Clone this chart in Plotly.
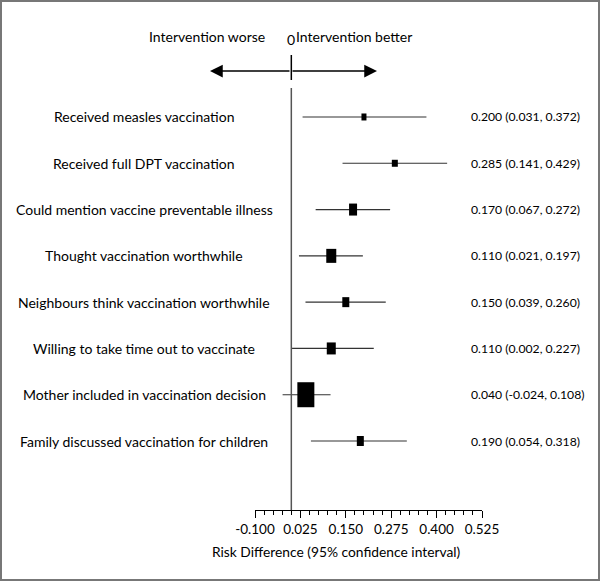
import plotly.graph_objects as go

# ---- data ----
outcomes = [
    "Received measles vaccination",
    "Received full DPT vaccination",
    "Could mention vaccine preventable illness",
    "Thought vaccination worthwhile",
    "Neighbours think vaccination worthwhile",
    "Willing to take time out to vaccinate",
    "Mother included in vaccination decision",
    "Family discussed vaccination for children",
]
estimate = [0.200, 0.285, 0.170, 0.110, 0.150, 0.110, 0.040, 0.190]
ci_low = [0.031, 0.141, 0.067, 0.021, 0.039, 0.002, -0.024, 0.054]
ci_high = [0.372, 0.429, 0.272, 0.197, 0.260, 0.227, 0.108, 0.318]
tick_vals = [-0.100, 0.025, 0.150, 0.275, 0.400, 0.525]
tick_text = ["-0.100", "0.025", "0.150", "0.275", "0.400", "0.525"]

# box pixel sizes (style)
box_w = [5, 6, 8, 10, 7, 9, 17, 7]
box_h = [7, 7, 12, 14, 10, 12, 25, 10]

W, H = 600, 581
ML, MR, MT, MB = 255, 118, 88, 71
PW, PH = W - ML - MR, H - MT - MB
FONT = "Lato"

def px(p):
    return (p - ML) / PW

def py(p):
    return (H - MB - p) / PH

rows = list(range(1, len(outcomes) + 1))

fig = go.Figure()
fig.add_trace(go.Scatter(
    x=estimate, y=rows, mode="markers",
    marker=dict(size=1, color="rgba(0,0,0,0)"),
    error_x=dict(type="data", symmetric=False,
                 array=[h - e for h, e in zip(ci_high, estimate)],
                 arrayminus=[e - l for e, l in zip(estimate, ci_low)],
                 width=0, thickness=1.2, color="#333333"),
    showlegend=False, hoverinfo="skip",
))

shapes = []
# reference line at 0
shapes.append(dict(type="line", xref="x", yref="paper", x0=0, x1=0, y0=0, y1=1,
                   line=dict(color="#555555", width=1.5)))
# boxes
for e, r, w, h in zip(estimate, rows, box_w, box_h):
    shapes.append(dict(type="rect", xref="x", yref="y",
                       xsizemode="pixel", ysizemode="pixel",
                       xanchor=e, yanchor=r, x0=-w / 2, x1=w / 2, y0=-h / 2, y1=h / 2,
                       fillcolor="black", line=dict(width=0)))
# header tick at 0
shapes.append(dict(type="line", xref="x", yref="paper", x0=0, x1=0,
                   y0=py(80), y1=py(55), line=dict(color="black", width=1.5)))
# frame
shapes.append(dict(type="rect", xref="paper", yref="paper",
                   x0=px(1), x1=px(599), y0=py(580), y1=py(1),
                   line=dict(color="#777777", width=2)))

ann = []
for o, r in zip(outcomes, rows):
    ann.append(dict(x=px(144), xref="paper", y=r, yref="y", text=o, showarrow=False,
                    xanchor="center", yanchor="middle",
                    font=dict(family=FONT, size=14, color="black")))
for e, l, h, r in zip(estimate, ci_low, ci_high, rows):
    ann.append(dict(x=px(469), xref="paper", y=r, yref="y",
                    text=f"{e:.3f} ({l:.3f}, {h:.3f})", showarrow=False,
                    xanchor="left", yanchor="middle",
                    font=dict(family=FONT, size=12.2, color="black")))
# header
ann.append(dict(x=px(267), xref="paper", y=py(36), yref="paper", text="Intervention worse",
                showarrow=False, xanchor="right", yanchor="middle",
                font=dict(family=FONT, size=14, color="black")))
ann.append(dict(x=px(294), xref="paper", y=py(36), yref="paper", text="Intervention better",
                showarrow=False, xanchor="left", yanchor="middle",
                font=dict(family=FONT, size=14, color="black")))
ann.append(dict(x=0, xref="x", y=py(40), yref="paper", text="0",
                showarrow=False, xanchor="center", yanchor="middle",
                font=dict(family=FONT, size=14, color="black")))
# arrows
for tip in (210, 377):
    ann.append(dict(x=px(tip), xref="paper", y=py(71), yref="paper",
                    ax=291 - tip, ay=0, axref="pixel", ayref="pixel",
                    text="", showarrow=True, arrowhead=2, arrowsize=1.7,
                    arrowwidth=1.5, arrowcolor="black", standoff=0))
# axis title
ann.append(dict(x=px(336), xref="paper", y=py(551), yref="paper",
                text="Risk Difference (95% confidence interval)", showarrow=False,
                xanchor="center", yanchor="middle",
                font=dict(family=FONT, size=13.8, color="black")))

fig.update_layout(
    width=W, height=H,
    margin=dict(l=ML, r=MR, t=MT, b=MB, pad=0),
    plot_bgcolor="white", paper_bgcolor="white",
    shapes=shapes, annotations=ann,
    xaxis=dict(range=[-0.100, 0.525], tickvals=tick_vals, ticktext=tick_text,
               showgrid=False, zeroline=False, showline=True, linecolor="black",
               linewidth=1, ticks="outside", ticklen=7, tickcolor="black",
               tickfont=dict(family=FONT, size=13.5, color="black"),
               minor=dict(dtick=0.025, tick0=0.0, ticks="outside", ticklen=4,
                          tickcolor="black", showgrid=False),
               fixedrange=True),
    yaxis=dict(range=[9.49, 0.374], visible=False, showgrid=False, zeroline=False,
               fixedrange=True),
)

fig.write_html("out.html", config={"displayModeBar": False},
               post_script="document.body.style.margin='0px';document.body.style.padding='0px';")
